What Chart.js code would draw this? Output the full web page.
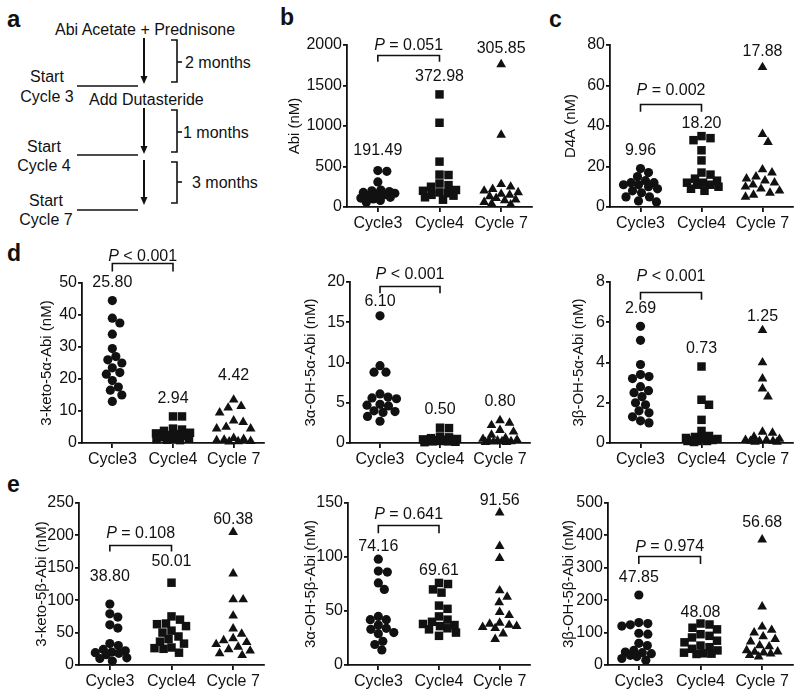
<!DOCTYPE html>
<html><head><meta charset="utf-8">
<script src="https://cdn.jsdelivr.net/npm/chart.js@4/dist/chart.umd.min.js"></script>
<style>
body{margin:0;background:#fff;width:800px;height:693px;position:relative;overflow:hidden;font-family:"Liberation Sans",Arial,sans-serif;}
canvas{position:absolute;}
.pl{position:absolute;font-weight:bold;font-size:23px;color:#111;line-height:1;}
svg{position:absolute;left:0;top:0;}
</style></head><body>
<svg width="270" height="232" font-family="Liberation Sans, Arial, sans-serif" font-size="16" fill="#111">
  <text x="7" y="27" font-weight="bold" font-size="24">a</text>
  <text x="55" y="35">Abi Acetate + Prednisone</text>
  <text x="185" y="68">2 months</text>
  <text x="47" y="82" text-anchor="middle">Start</text>
  <text x="47" y="102" text-anchor="middle">Cycle 3</text>
  <text x="89" y="105">Add Dutasteride</text>
  <text x="183" y="138">1 months</text>
  <text x="44" y="152" text-anchor="middle">Start</text>
  <text x="44" y="171" text-anchor="middle">Cycle 4</text>
  <text x="192" y="188">3 months</text>
  <text x="46" y="206" text-anchor="middle">Start</text>
  <text x="46" y="225" text-anchor="middle">Cycle 7</text>
  <g stroke="#111" stroke-width="1.6" fill="none">
    <line x1="77" y1="86" x2="138" y2="86"/>
    <line x1="77" y1="155" x2="138" y2="155"/>
    <line x1="77" y1="210" x2="138" y2="210"/>
    <polyline points="171,40 177,40 177,82 171,82"/><line x1="177" y1="62" x2="182" y2="62"/>
    <polyline points="171,110 177,110 177,152 171,152"/><line x1="177" y1="132" x2="182" y2="132"/>
    <polyline points="171,162 177,162 177,203 171,203"/><line x1="177" y1="182" x2="182" y2="182"/>
  </g>
  <g stroke="#111" stroke-width="2">
    <line x1="144" y1="38" x2="144" y2="77"/>
    <line x1="144" y1="108" x2="144" y2="147"/>
    <line x1="144" y1="160" x2="144" y2="198"/>
  </g>
  <polygon points="140.5,76 147.5,76 144,84" fill="#111"/>
  <polygon points="140.5,146 147.5,146 144,154" fill="#111"/>
  <polygon points="140.5,197 147.5,197 144,205" fill="#111"/>
</svg>
<div class="pl" style="left:280px;top:6px">b</div>
<div class="pl" style="left:549px;top:8px">c</div>
<div class="pl" style="left:7px;top:242px">d</div>
<div class="pl" style="left:7px;top:473px">e</div>
<script>
// ---------- data ----------
const categories = ['Cycle3', 'Cycle4', 'Cycle 7'];

// b: Abi (nM)
const abiC3 = [450, 440, 310, 210, 200, 190, 180, 170, 160, 150, 140, 120, 110, 100, 80, 60];
const abiC4 = [1390, 1040, 560, 400, 395, 290, 270, 250, 210, 200, 180, 170, 150, 140, 120, 90];
const abiC7 = [1760, 890, 280, 250, 220, 200, 180, 160, 150, 130, 110, 90, 80, 60, 40, 30];
const abiLabels = ['191.49', '372.98', '305.85'];
const abiP = 'P = 0.051';

// c: D4A (nM)
const d4aC3 = [19, 17, 15, 13, 12, 12, 11, 11, 10, 9, 8, 7, 5, 5, 3, 2.5];
const d4aC4 = [35, 34, 33, 28, 23, 17, 16, 14, 13, 12, 12, 11, 11, 10, 9, 8];
const d4aC7 = [69, 36, 32, 18.5, 17, 15, 14, 13, 12, 11, 10, 9, 8, 7, 6, 5];
const d4aLabels = ['9.96', '18.20', '17.88'];
const d4aP = 'P = 0.002';

// d: 3-keto-5α-Abi
const k5aC3 = [44.5, 39, 37.5, 34, 29.5, 27, 26, 25, 23.5, 22, 21.5, 19.5, 17.5, 16.5, 15, 13];
const k5aC4 = [8.3, 8.3, 4.5, 4.2, 3.8, 3.2, 3.0, 2.8, 2.5, 2.2, 1.8, 1.5, 1.3, 1.2, 1.0, 0.9];
const k5aC7 = [13.5, 11.5, 11, 9.5, 7, 6.5, 5, 4.5, 4.5, 1.5, 1.2, 1.0, 0.8, 0.6, 0.5, 0.4];
const k5aLabels = ['25.80', '2.94', '4.42'];
const k5aP = 'P < 0.001';

// d: 3α-OH-5α-Abi
const a5aC3 = [15.8, 9.6, 8.8, 8.8, 6.1, 5.7, 5.6, 5.5, 4.8, 4.7, 4.6, 4.0, 3.9, 3.8, 3.3, 2.7];
const a5aC4 = [1.9, 1.85, 0.8, 0.7, 0.6, 0.5, 0.45, 0.4, 0.35, 0.3, 0.3, 0.25, 0.2, 0.2, 0.15, 0.1];
const a5aC7 = [2.8, 2.5, 2.2, 1.6, 1.4, 1.0, 0.6, 0.5, 0.4, 0.3, 0.3, 0.2, 0.2, 0.15, 0.1, 0.1];
const a5aLabels = ['6.10', '0.50', '0.80'];
const a5aP = 'P < 0.001';

// d: 3β-OH-5α-Abi
const b5aC3 = [5.8, 5.1, 3.9, 3.4, 3.3, 3.2, 2.8, 2.6, 2.5, 2.3, 2.0, 1.9, 1.6, 1.5, 1.3, 1.1, 1.0];
const b5aC4 = [3.8, 2.15, 1.9, 1.15, 0.6, 0.35, 0.3, 0.25, 0.2, 0.2, 0.15, 0.15, 0.1, 0.1, 0.1, 0.05];
const b5aC7 = [5.6, 4.0, 3.2, 2.7, 2.3, 0.55, 0.5, 0.3, 0.2, 0.15, 0.15, 0.1, 0.1, 0.1, 0.05, 0.05];
const b5aLabels = ['2.69', '0.73', '1.25'];
const b5aP = 'P < 0.001';

// e: 3-keto-5β-Abi
const k5bC3 = [94, 79, 74, 62, 57, 33, 30, 24, 22, 20, 19, 18, 16, 11, 10, 6];
const k5bC4 = [127, 75, 70, 64, 63, 60, 53, 50, 44, 40, 36, 33, 27, 26, 25, 19];
const k5bC7 = [205, 141, 101, 101, 76, 56, 48, 41, 38, 35, 32, 28, 24, 22, 18, 15];
const k5bLabels = ['38.80', '50.01', '60.38'];
const k5bP = 'P = 0.108';

// e: 3α-OH-5β-Abi
const a5bC3 = [98, 87, 86, 76, 70, 45, 42, 42, 37, 34, 33, 30, 29, 22, 19, 14];
const a5bC4 = [76, 75, 70, 67, 55, 52, 45, 42, 40, 38, 37, 36, 34, 33, 30, 27];
const a5bC7 = [141, 110, 99, 69, 63, 58, 49, 46, 39, 38, 37, 36, 35, 34, 29, 24];
const a5bLabels = ['74.16', '69.61', '91.56'];
const a5bP = 'P = 0.641';

// e: 3β-OH-5β-Abi
const b5bC3 = [216, 131, 128, 124, 120, 98, 95, 67, 60, 45, 40, 38, 35, 30, 26, 20, 15];
const b5bC4 = [128, 125, 115, 110, 95, 90, 85, 75, 70, 60, 55, 50, 45, 38, 36, 35, 34];
const b5bC7 = [387, 180, 118, 108, 100, 88, 80, 72, 60, 57, 45, 41, 40, 38, 35, 30, 26];
const b5bLabels = ['47.85', '48.08', '56.68'];
const b5bP = 'P = 0.974';

// ---------- panel layout (style) ----------
const panels = [
  {title:'Abi (nM)', max:2000, step:500, data:[abiC3,abiC4,abiC7], labels:abiLabels, p:abiP,
   area:[347,45,532,207], titleOff:52, pY:1990, brY:1876, brT:1794, labY:[701,1616,1959]},
  {title:'D4A (nM)', max:80, step:20, data:[d4aC3,d4aC4,d4aC7], labels:d4aLabels, p:d4aP,
   area:[610,45,793,207], titleOff:39, pY:57.4, brY:50.8, brT:47, labY:[28,41.3,76.7]},
  {title:'3-keto-5\u03b1-Abi (nM)', max:50, step:10, data:[k5aC3,k5aC4,k5aC7], labels:k5aLabels, p:k5aP,
   area:[82,283,264,443], titleOff:35, pY:58.3, brY:56.25, brT:53.6, labY:[50,13.75,21]},
  {title:'3\u03b1-OH-5\u03b1-Abi (nM)', max:20, step:5, data:[a5aC3,a5aC4,a5aC7], labels:a5aLabels, p:a5aP,
   area:[350,282,530,443], titleOff:39, pY:20.9, brY:19.5, brT:18.6, labY:[17.6,4.14,5.18]},
  {title:'3\u03b2-OH-5\u03b1-Abi (nM)', max:8, step:2, data:[b5aC3,b5aC4,b5aC7], labels:b5aLabels, p:b5aP,
   area:[610,282,793,443], titleOff:31, pY:8.28, brY:7.5, brT:7.12, labY:[6.66,4.67,6.29]},
  {title:'3-keto-5\u03b2-Abi (nM)', max:250, step:50, data:[k5bC3,k5bC4,k5bC7], labels:k5bLabels, p:k5bP,
   area:[79,503,264,665], titleOff:37, pY:202.6, brY:185.6, brT:175, labY:[136.6,160,225]},
  {title:'3\u03b1-OH-5\u03b2-Abi (nM)', max:150, step:50, data:[a5bC3,a5bC4,a5bC7], labels:a5bLabels, p:a5bP,
   area:[348,503,530,665], titleOff:37, pY:139.2, brY:130, brT:122, labY:[109.8,87.5,152.5]},
  {title:'3\u03b2-OH-5\u03b2-Abi (nM)', max:500, step:100, data:[b5bC3,b5bC4,b5bC7], labels:b5bLabels, p:b5bP,
   area:[608,503,793,665], titleOff:39, pY:364, brY:335, brT:312, labY:[271,162,440]}
];

const FAM = '"Liberation Sans", Arial, sans-serif';
Chart.defaults.font.family = FAM;
Chart.defaults.color = '#111';
const INK = '#111';

// beeswarm layout confined to a band around the category centre;
// when the band is full the point goes where it overlaps least
function swarm(vals, pxPerUnit, pxPerCat, d, half) {
  const off = new Array(vals.length).fill(0);
  const placed = [];
  const cands = [];
  for (let s = 0; s <= half * 4; s++) cands.push((s % 2 === 1 ? 1 : -1) * Math.ceil(s / 2) * 0.5);
  vals.forEach((v, k) => {
    const yk = v * pxPerUnit;
    let best = 0, bestD = -1, found = false;
    for (const c of cands) {
      let md = Infinity;
      for (const q of placed) {
        const dx = q.x - c, dy = q.y - yk;
        md = Math.min(md, Math.sqrt(dx * dx + dy * dy));
      }
      if (md >= d) { best = c; found = true; break; }
      if (md > bestD + 0.01) { bestD = md; best = c; }
    }
    off[k] = best / pxPerCat;
    placed.push({x: best, y: yk});
  });
  return off;
}

const annot = {
  id: 'annot',
  afterDraw(chart) {
    const o = chart.options.plugins.annot; if (!o) return;
    const ctx = chart.ctx, x = chart.scales.x, y = chart.scales.y;
    ctx.save();
    ctx.fillStyle = INK; ctx.strokeStyle = INK;
    ctx.textAlign = 'center'; ctx.textBaseline = 'middle';
    ctx.font = '16px ' + FAM;
    o.labels.forEach((t, i) => ctx.fillText(t, x.getPixelForValue(i), y.getPixelForValue(o.labY[i])));
    const x0 = x.getPixelForValue(0), x1 = x.getPixelForValue(1);
    const by = Math.round(y.getPixelForValue(o.brY)) + 0.5, bt = y.getPixelForValue(o.brT);
    ctx.lineWidth = 1.6;
    ctx.beginPath(); ctx.moveTo(x0, bt); ctx.lineTo(x0, by); ctx.lineTo(x1, by); ctx.lineTo(x1, bt); ctx.stroke();
    const first = o.p.slice(0, 1), rest = o.p.slice(1);
    ctx.font = 'italic 16px ' + FAM; const w1 = ctx.measureText(first).width;
    ctx.font = '16px ' + FAM; const w2 = ctx.measureText(rest).width;
    const sx = (x0 + x1) / 2 - (w1 + w2) / 2, py = y.getPixelForValue(o.pY);
    ctx.textAlign = 'left';
    ctx.font = 'italic 16px ' + FAM; ctx.fillText(first, sx, py);
    ctx.font = '16px ' + FAM; ctx.fillText(rest, sx + w1, py);
    ctx.restore();
  }
};

const ML = 75, MT = 45, MR = 8, MB = 30;
const shapes = ['circle', 'rect', 'triangle'];
const radii = [4.6, 6, 5.6];
const gaps = [8.6, 8.8, 9.6];
const HALF = 17;

panels.forEach(p => {
  const [L, T, R, B] = p.area;
  const W = R - L + ML + MR, H = B - T + MT + MB;
  const cv = document.createElement('canvas');
  cv.width = W; cv.height = H;
  cv.style.left = (L - ML) + 'px'; cv.style.top = (T - MT) + 'px';
  cv.style.width = W + 'px'; cv.style.height = H + 'px';
  document.body.appendChild(cv);
  const pxU = (B - T) / p.max, pxC = (R - L) / 3;
  const datasets = p.data.map((vals, g) => {
    const off = swarm(vals, pxU, pxC, gaps[g], HALF);
    return {
      data: vals.map((v, i) => ({x: g + off[i], y: v})),
      pointStyle: shapes[g], pointRadius: radii[g], pointHoverRadius: radii[g],
      backgroundColor: INK, borderColor: INK, borderWidth: 0, clip: false
    };
  });
  const yTicks = [];
  for (let v = 0; v <= p.max + 1e-9; v += p.step) yTicks.push(+v.toFixed(6));
  new Chart(cv, {
    type: 'scatter',
    data: {datasets},
    options: {
      responsive: false, animation: false, devicePixelRatio: 1,
      layout: {padding: {left: 0, top: MT, right: MR, bottom: 0}},
      plugins: {legend: {display: false}, tooltip: {enabled: false},
        annot: {labels: p.labels, labY: p.labY, p: p.p, pY: p.pY, brY: p.brY, brT: p.brT}},
      scales: {
        x: {
          type: 'linear', min: -0.5, max: 2.5,
          afterBuildTicks: s => { s.ticks = [0, 1, 2].map(v => ({value: v})); },
          afterFit: s => { s.height = MB; },
          ticks: {callback: v => categories[v], font: {size: 16}, color: INK, padding: 2, maxRotation: 0, autoSkip: false},
          grid: {drawOnChartArea: false, drawTicks: true, tickLength: 5, color: INK, lineWidth: 1.8},
          border: {display: true, color: INK, width: 1.8}
        },
        y: {
          min: 0, max: p.max,
          afterBuildTicks: s => { s.ticks = yTicks.map(v => ({value: v})); },
          afterFit: s => { s.width = ML; },
          ticks: {callback: v => String(v), font: {size: 16}, color: INK, padding: 1},
          grid: {drawOnChartArea: false, drawTicks: true, tickLength: 4, color: INK, lineWidth: 1.8},
          border: {display: true, color: INK, width: 1.8},
          title: {display: true, text: p.title, color: INK, font: {size: 15},
                  padding: {top: ML - p.titleOff - 9, bottom: 0}}
        }
      }
    },
    plugins: [annot]
  });
});
</script>
</body></html>
